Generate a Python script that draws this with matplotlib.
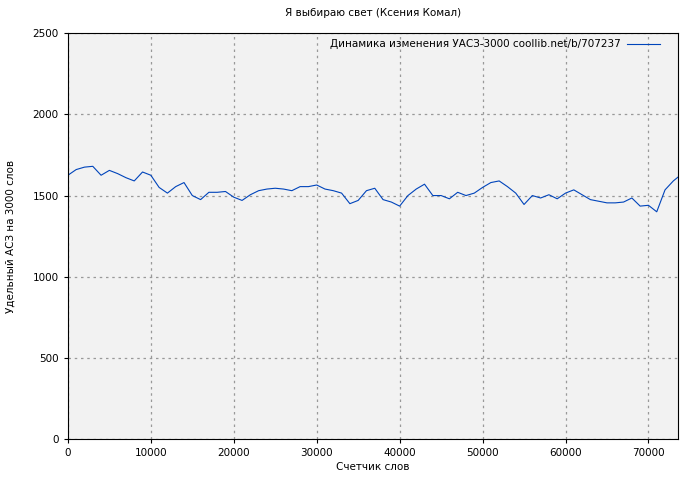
import matplotlib
matplotlib.use('Agg')
import matplotlib.pyplot as plt

words = list(range(0, 74000, 1000))
values = [1625, 1660, 1675, 1680, 1625, 1655, 1635, 1610, 1590, 1645,
          1625, 1550, 1515, 1555, 1580, 1500, 1475, 1520, 1520, 1525,
          1490, 1470, 1505, 1530, 1540, 1545, 1540, 1530, 1555, 1555,
          1565, 1540, 1530, 1515, 1450, 1470, 1530, 1545, 1475, 1460,
          1435, 1500, 1540, 1570, 1500, 1500, 1480, 1520, 1500, 1515,
          1550, 1580, 1590, 1555, 1515, 1445, 1500, 1485, 1505, 1480,
          1515, 1535, 1505, 1475, 1465, 1455, 1455, 1460, 1485, 1435,
          1440, 1400, 1535, 1590]
words.append(73600)
values.append(1615)

fig = plt.figure(figsize=(7, 4.8), dpi=100, facecolor='white')
ax = fig.add_axes([0.097, 0.085, 0.872, 0.846])
ax.set_facecolor('#f2f2f2')
ax.plot(words, values, color='#0044bb', linewidth=0.8,
        label='Динамика изменения УАСЗ-3000 coollib.net/b/707237')
ax.set_xlim(0, words[-1])
ax.set_ylim(0, 2500)
ax.set_yticks(range(0, 2501, 500))
ax.set_xticks(range(0, 70001, 10000))
ax.grid(True, color='#999999', linestyle=(0, (2, 3)), linewidth=0.9)
ax.tick_params(labelsize=7.5, direction='out', length=3)
ax.set_xlabel('Счетчик слов', fontsize=7.5, labelpad=3)
ax.set_ylabel('Удельный АСЗ на 3000 слов', fontsize=7.5, labelpad=12)
ax.set_title('Я выбираю свет (Ксения Комал)', fontsize=7.5, pad=12)
leg = ax.legend(loc='upper right', fontsize=7.5, frameon=False, markerfirst=False,
                handlelength=3.2, borderaxespad=0.2, handletextpad=0.6,
                bbox_to_anchor=(0.98, 1.0))
fig.savefig('out.png')
